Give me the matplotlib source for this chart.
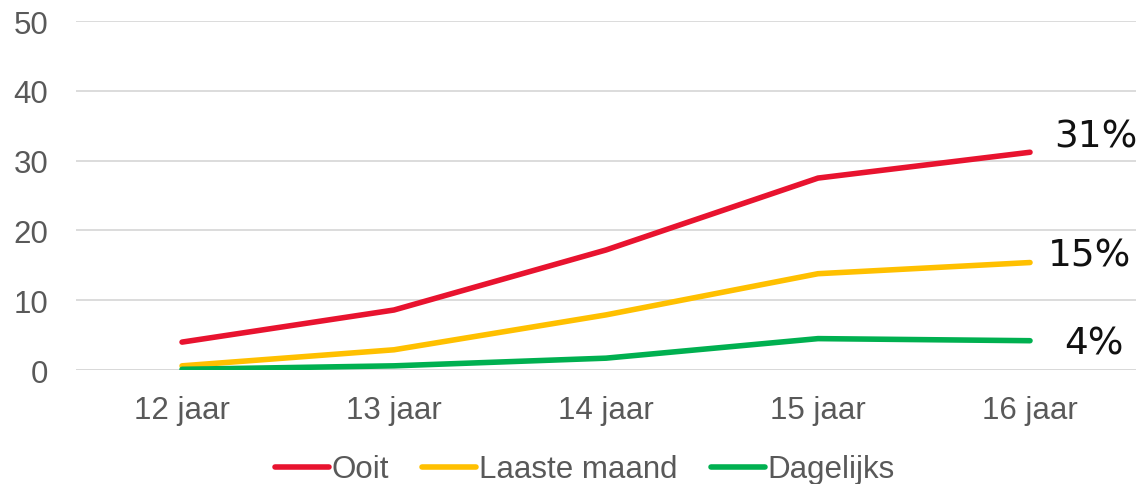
import numpy as np
import matplotlib
matplotlib.use('Agg')
import matplotlib.pyplot as plt

categories = ['12 jaar', '13 jaar', '14 jaar', '15 jaar', '16 jaar']
ooit = [4.0, 8.6, 17.2, 27.5, 31.2]
laaste_maand = [0.6, 2.9, 7.9, 13.8, 15.4]
dagelijks = [0.1, 0.6, 1.7, 4.5, 4.2]
end_labels = ['31%', '15%', '4%']

plt.rcParams['font.family'] = ['Liberation Sans', 'DejaVu Sans']

fig = plt.figure(figsize=(11.4, 4.85), dpi=100)
ax = fig.add_axes([0.0667, 0.235, 0.9298, 0.7196])

x = np.arange(len(categories))
series = [(ooit, 'Ooit', '#E8132F'),
          (laaste_maand, 'Laaste maand', '#FFC000'),
          (dagelijks, 'Dagelijks', '#00B050')]
for vals, name, col in series:
    ax.plot(x, vals, color=col, lw=4, solid_capstyle='round', label=name)

# end labels (offset from last point)
offsets = [(0.31, 2.2), (0.28, 1.0), (0.30, -0.4)]
for (vals, _, _), lab, (dx, dy) in zip(series, end_labels, offsets):
    ax.text(x[-1] + dx, vals[-1] + dy, lab, fontsize=27, family='DejaVu Sans',
            ha='center', va='center', color='#111111')

ax.set_xlim(-0.5, len(categories) - 0.5)
ax.set_ylim(0, 50)
ax.set_yticks(range(0, 51, 10))
ax.set_xticks(x)
ax.set_xticklabels(categories)
ax.tick_params(axis='both', length=0, labelsize=22.5, colors='#595959')
ax.tick_params(axis='y', pad=20)
ax.tick_params(axis='x', pad=18)
ax.grid(axis='y', color='#d9d9d9', lw=1.3)
ax.set_axisbelow(True)
for s in ax.spines.values():
    s.set_visible(False)
ax.axhline(0, color='#d9d9d9', lw=1.3, zorder=0)

leg = fig.legend(*ax.get_legend_handles_labels(), loc='center',
                 bbox_to_anchor=(0.513, 0.03), ncol=3, frameon=False,
                 fontsize=22.5, handlelength=1.73, handletextpad=0.1,
                 columnspacing=1.05, borderpad=0, borderaxespad=0)
for t in leg.get_texts():
    t.set_color('#595959')

fig.savefig('out.png', dpi=100)
